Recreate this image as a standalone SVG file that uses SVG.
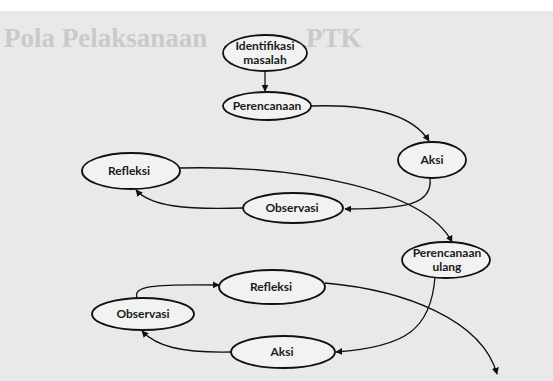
<svg xmlns="http://www.w3.org/2000/svg" width="553" height="381" viewBox="0 0 553 381">
<defs>
<style>
.node ellipse{fill:#f2f2f2;stroke:#111;stroke-width:1.8}
.node text{font-family:Lato,"Open Sans",sans-serif;font-weight:700;font-size:12px;fill:#1a1a1a;text-anchor:middle}
.edge{fill:none;stroke:#111;stroke-width:1.3;marker-end:url(#ah)}
.bg{font-family:"Liberation Serif",serif;font-weight:700;fill:#cacaca;font-size:27px}
</style>
<marker id="ah" viewBox="0 0 10 10" refX="9" refY="5" markerWidth="7" markerHeight="7" markerUnits="userSpaceOnUse" orient="auto">
<path d="M0,0 L10,5 L0,10 z" fill="#111"/>
</marker>
</defs>
<rect width="553" height="381" fill="#e9e9e9"/>
<rect width="553" height="11" fill="#ffffff"/>
<text class="bg" x="4" y="47">Pola Pelaksanaan</text>
<text class="bg" x="306" y="47">PTK</text>

<g id="connectors">
<path class="edge" d="M265,71 L265,91"/>
<path class="edge" d="M311,106 C370,104 412,114 429,141"/>
<path class="edge" d="M430,178 C433,205 405,209 345,209"/>
<path class="edge" d="M243,208 C185,210 150,206 136,190"/>
<path class="edge" d="M180,168 C300,165 425,190 452,242"/>
<path class="edge" d="M435,277 C431,330 405,347 336,352"/>
<path class="edge" d="M231,352 C180,353 156,346 142,331"/>
<path class="edge" d="M137,298 C133,286 152,284 219,285"/>
<path class="edge" d="M325,283 C405,290 482,320 497,374"/>
</g>

<g id="identifikasi" class="node"><ellipse cx="265" cy="53" rx="42" ry="18"/><text x="265" y="50">Identifikasi</text><text x="265" y="64">masalah</text></g>
<g id="perencanaan" class="node"><ellipse cx="267" cy="106" rx="44" ry="14"/><text x="267" y="110">Perencanaan</text></g>
<g id="aksi1" class="node"><ellipse cx="432" cy="160" rx="34" ry="18"/><text x="432" y="164">Aksi</text></g>
<g id="observasi1" class="node"><ellipse cx="293" cy="208" rx="50" ry="15"/><text x="292" y="212">Observasi</text></g>
<g id="refleksi1" class="node"><ellipse cx="131" cy="171" rx="49" ry="18"/><text x="129" y="175">Refleksi</text></g>
<g id="perencanaan-ulang" class="node"><ellipse cx="446" cy="260" rx="44" ry="18"/><text x="447" y="257">Perencanaan</text><text x="447" y="271">ulang</text></g>
<g id="refleksi2" class="node"><ellipse cx="272" cy="287" rx="53" ry="17"/><text x="271" y="291">Refleksi</text></g>
<g id="observasi2" class="node"><ellipse cx="143" cy="314" rx="51" ry="16"/><text x="143" y="318">Observasi</text></g>
<g id="aksi2" class="node"><ellipse cx="283" cy="352" rx="52" ry="16"/><text x="282" y="356">Aksi</text></g>
</svg>
